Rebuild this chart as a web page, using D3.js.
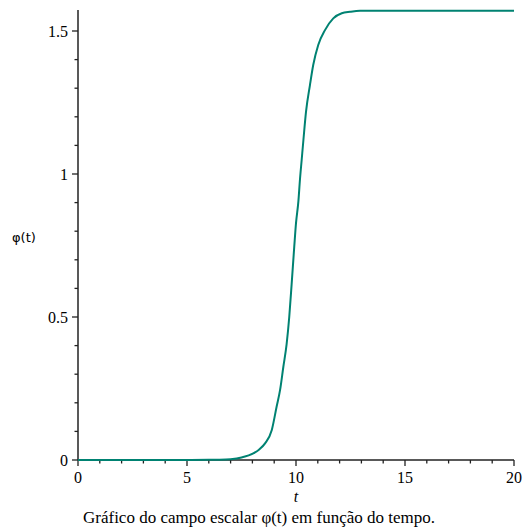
<!DOCTYPE html>
<html>
<head>
<meta charset="utf-8">
<script src="https://cdn.jsdelivr.net/npm/d3@7"></script>
<style>
  html, body { margin: 0; padding: 0; background: #fff; }
  svg { display: block; }
</style>
</head>
<body>
<svg id="chart" width="523" height="529"></svg>
<script>
// values
const tValues = [0, 2, 4, 6, 6.5, 7, 7.5, 8.04, 8.3, 8.58, 8.89, 9.11, 9.27, 9.42, 9.57, 9.69, 9.8, 9.92, 10.0, 10.11, 10.18, 10.26, 10.34, 10.46, 10.64, 10.79, 11.02, 11.33, 11.71, 12.1, 12.48, 12.94, 14, 17, 20];
const phiValues = [0, 0, 0, 0.0005, 0.001, 0.003, 0.009, 0.023, 0.036, 0.058, 0.105, 0.186, 0.245, 0.326, 0.405, 0.5, 0.615, 0.746, 0.828, 0.905, 0.979, 1.049, 1.119, 1.218, 1.311, 1.381, 1.451, 1.503, 1.544, 1.562, 1.567, 1.5705, 1.5708, 1.5708, 1.5708];
const xMajorTicks = [0, 5, 10, 15, 20];
const yMajorTicks = [0, 0.5, 1, 1.5];
const yTickLabels = ["0", "0.5", "1", "1.5"];
const xLabel = "t";
const yLabel = "\u03c6(t)";
const caption = "Gráfico do campo escalar \u03c6(t) em função do tempo.";

const svg = d3.select("#chart");
const serif = "'Liberation Serif', 'Times New Roman', serif";

const x = d3.scaleLinear().domain([0, 20]).range([78, 514]);
const y = d3.scaleLinear().domain([0, 1.5]).range([460, 31]);

// x axis (major + minor ticks)
const xAxis = svg.append("g").attr("transform", `translate(0,${y(0)})`);
xAxis.append("line")
  .attr("x1", x(0)).attr("x2", x(20))
  .attr("stroke", "#222").attr("stroke-width", 1.5);
xAxis.selectAll(".xminor")
  .data(d3.range(0, 21))
  .enter().append("line")
  .attr("x1", d => x(d)).attr("x2", d => x(d))
  .attr("y1", 0)
  .attr("y2", d => d % 5 === 0 ? 6 : 3.5)
  .attr("stroke", "#222").attr("stroke-width", 1.3);
xAxis.selectAll(".xlab")
  .data(xMajorTicks)
  .enter().append("text")
  .attr("x", d => x(d))
  .attr("y", 23)
  .attr("text-anchor", "middle")
  .attr("font-family", serif)
  .attr("font-size", "16px")
  .text(d => d);

// y axis
const yAxis = svg.append("g").attr("transform", `translate(${x(0)},0)`);
yAxis.append("line")
  .attr("y1", 10).attr("y2", y(0))
  .attr("stroke", "#222").attr("stroke-width", 1.5);
yAxis.selectAll(".yminor")
  .data(d3.range(0, 16).map(d => d / 10))
  .enter().append("line")
  .attr("y1", d => y(d)).attr("y2", d => y(d))
  .attr("x1", 0)
  .attr("x2", (d, i) => i % 5 === 0 ? -6 : -3.5)
  .attr("stroke", "#222").attr("stroke-width", 1.3);
yAxis.selectAll(".ylab")
  .data(yMajorTicks)
  .enter().append("text")
  .attr("x", -10)
  .attr("y", d => y(d))
  .attr("dy", "0.35em")
  .attr("text-anchor", "end")
  .attr("font-family", serif)
  .attr("font-size", "16px")
  .text((d, i) => yTickLabels[i]);

// axis titles
svg.append("text")
  .attr("x", x(10)).attr("y", 502)
  .attr("text-anchor", "middle")
  .attr("font-family", serif)
  .attr("font-style", "italic")
  .attr("font-size", "16px")
  .text(xLabel);

svg.append("text")
  .attr("x", 12).attr("y", 242)
  .attr("font-family", "'DejaVu Sans', sans-serif")
  .attr("font-size", "13px")
  .text(yLabel);

svg.append("text")
  .attr("x", 259).attr("y", 523)
  .attr("text-anchor", "middle")
  .attr("font-family", serif)
  .attr("font-size", "17px")
  .text(caption);

// curve
const line = d3.line()
  .x((d, i) => x(tValues[i]))
  .y(d => y(d))
  .curve(d3.curveMonotoneX);

svg.append("path")
  .datum(phiValues)
  .attr("d", line)
  .attr("fill", "none")
  .attr("stroke", "#008272")
  .attr("stroke-width", 2);
</script>
</body>
</html>
